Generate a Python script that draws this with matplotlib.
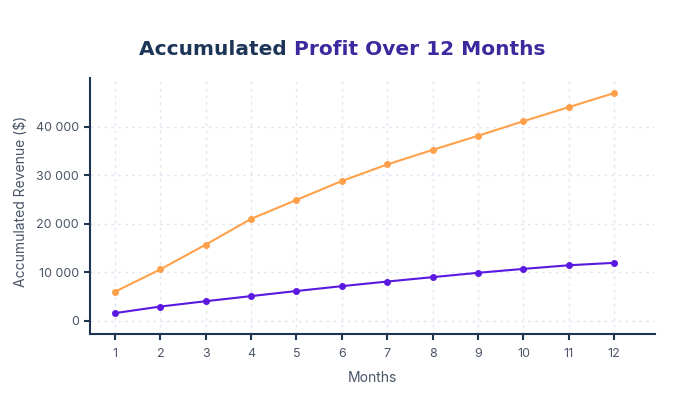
import matplotlib
matplotlib.use("Agg")
import matplotlib.pyplot as plt
from matplotlib.ticker import FuncFormatter

months = [1, 2, 3, 4, 5, 6, 7, 8, 9, 10, 11, 12]
revenue = [6000, 10600, 15700, 21000, 24900, 28800, 32200, 35200, 38100, 41100, 44000, 46900]
profit = [1600, 2950, 4050, 5100, 6150, 7150, 8100, 9000, 9900, 10700, 11450, 11950]
yticks = [0, 10000, 20000, 30000, 40000]

plt.rcParams['font.family'] = ['Inter', 'DejaVu Sans']

navy = '#1c3550'
tickc = '#4a5568'
orange = '#ffa04a'
purple = '#5b18e0'

fig = plt.figure(figsize=(6.84, 4.0), dpi=100)
ax = fig.add_axes([90/684, 1 - 334/400, (655-90)/684, (334-78)/400])

ax.plot(months, revenue, color=orange, lw=1.5, marker='o', ms=4, zorder=3)
ax.plot(months, profit, color=purple, lw=1.5, marker='o', ms=4, zorder=3)

ax.set_xlim(0.45, 12.9)
ax.set_ylim(-2700, 50000)
ax.set_xticks(months)
ax.set_yticks(yticks)
ax.yaxis.set_major_formatter(FuncFormatter(lambda v, p: f"{int(v):,}".replace(",", " ")))

ax.grid(True, color='#e4e4f4', linestyle=(0, (2, 3)), lw=1)
ax.set_axisbelow(True)
for s in ['top', 'right']:
    ax.spines[s].set_visible(False)
for s in ['left', 'bottom']:
    ax.spines[s].set_color(navy)
    ax.spines[s].set_linewidth(1.5)
ax.tick_params(axis='both', direction='out', length=4, width=1.5, color=navy,
               labelcolor=tickc, labelsize=9)
ax.tick_params(axis='x', pad=6)
ax.tick_params(axis='y', pad=4)

ax.set_xlabel('Months', color=tickc, fontsize=10)
ax.set_ylabel('Accumulated Revenue ($)', color=tickc, fontsize=10)
ax.xaxis.set_label_coords(0.5, (334 - 371) / 256)
ax.yaxis.set_label_coords((28 - 90) / 565, 0.52)

# two-colour title
r = fig.canvas.get_renderer()
tfont = dict(fontsize=14.5, fontweight='bold', family=['DejaVu Sans'])
t1 = fig.text(0, 0, 'Accumulated ', color='#1d3557', **tfont)
t2 = fig.text(0, 0, 'Profit Over 12 Months', color='#3b2a9e', **tfont)
w1 = t1.get_window_extent(r).width
w2 = t2.get_window_extent(r).width
total = w1 + w2
x0 = (342 - total / 2) / 684
ty = 1 - 55 / 400
t1.set_position((x0, ty))
t2.set_position((x0 + w1 / 684, ty))

fig.savefig('out.png', dpi=100)
